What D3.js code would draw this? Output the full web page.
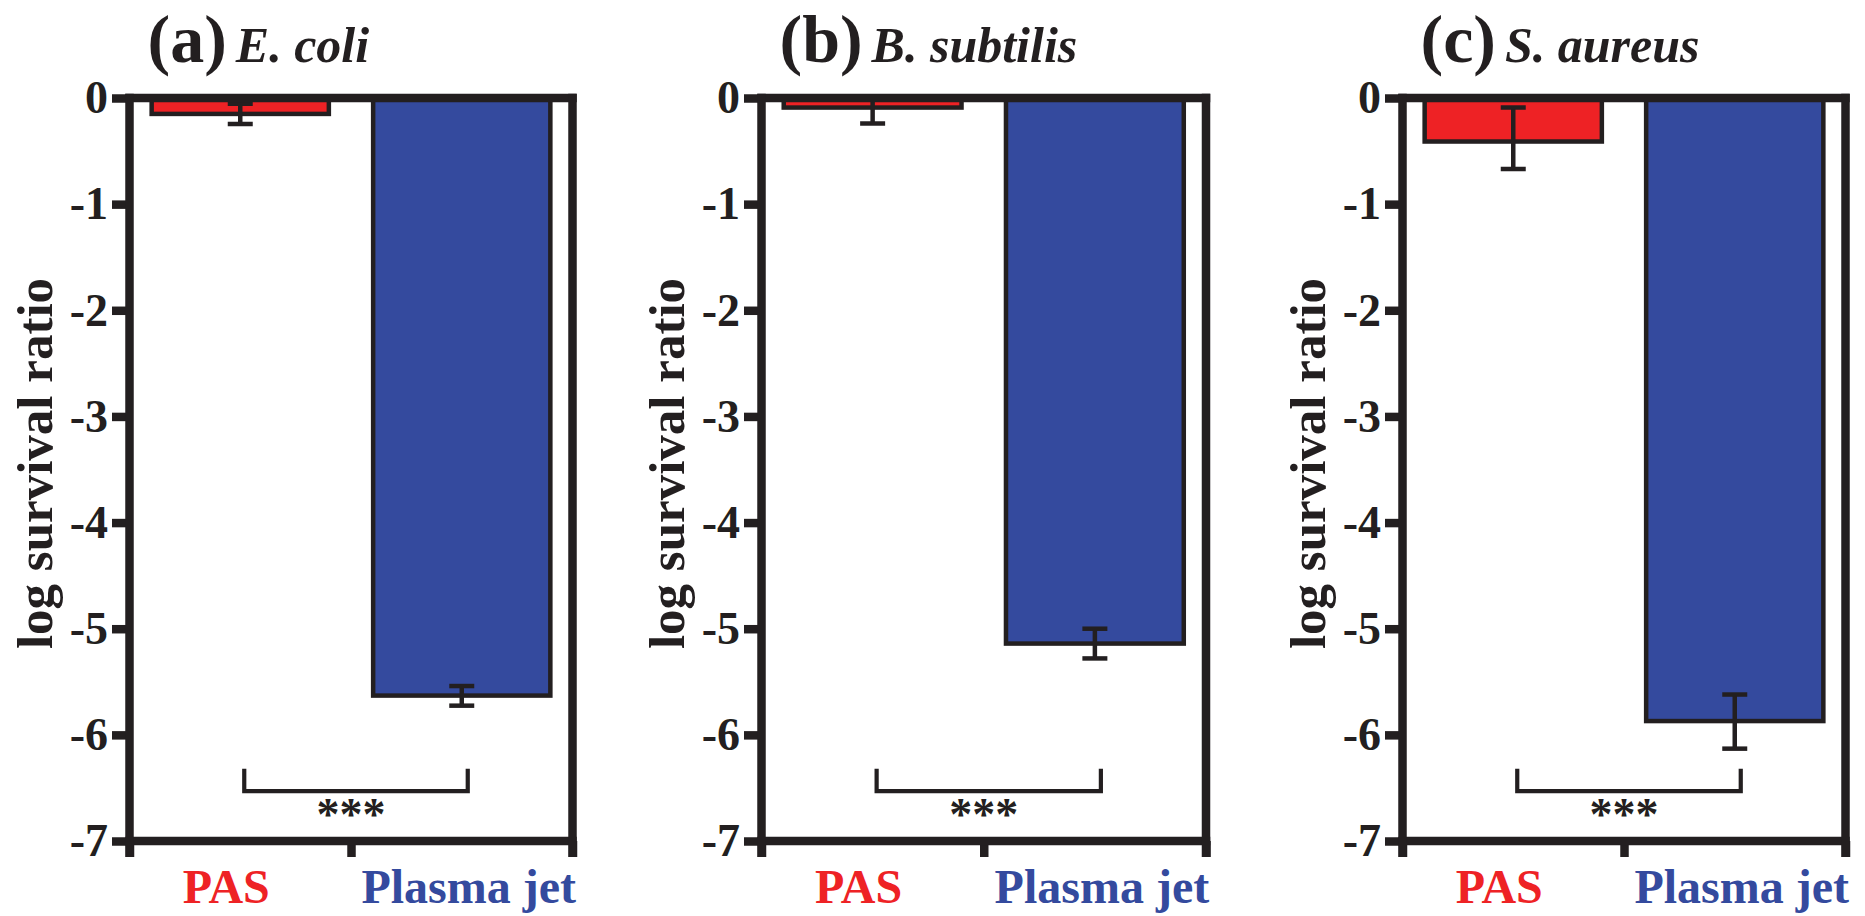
<!DOCTYPE html>
<html>
<head>
<meta charset="utf-8">
<script src="https://cdn.jsdelivr.net/npm/d3@7"></script>
<style>
  html, body { margin: 0; padding: 0; background: #fff; }
  svg { display: block; }
</style>
</head>
<body>
<svg id="chart" width="1865" height="916"></svg>
<script>
// ---- data ----
const categories = ["PAS", "Plasma jet"];
const panelLetters = ["(a)", "(b)", "(c)"];
const species = ["E. coli", "B. subtilis", "S. aureus"];
const pasMean = [-0.15, -0.09, -0.41];
const pasErrUp = [0.095, 0.15, 0.32];
const pasErrDown = [0.095, 0.15, 0.26];
const jetMean = [-5.63, -5.14, -5.87];
const jetErrUp = [0.09, 0.14, 0.25];
const jetErrDown = [0.095, 0.14, 0.26];
const yTicks = [0, -1, -2, -3, -4, -5, -6, -7];
const yLabel = "log survival ratio";
const significance = ["***", "***", "***"];
const bracketTip = -6.32;   // y value where the bracket arms end
const bracketBar = -6.53;   // y value of the bracket cross bar

// ---- styling / layout ----
const INK = "#231F20", RED = "#EE2225", BLUE = "#344A9E";
const FONT = "'Liberation Serif','Times New Roman',Times,serif";
const layout = [
  { x0: 129.5, x1: 572.5 },
  { x0: 761.5, x1: 1206 },
  { x0: 1402.5, x1: 1845.5 }
];
const yTop = 98, yBot = 841;
const AXW = 8.5;        // frame line width
const TICK = 17.5;      // tick length from the frame line centre
const labelShift = [-14, 7];

const svg = d3.select("#chart");
const y = d3.scaleLinear().domain([0, -7]).range([yTop, yBot]);

panelLetters.forEach((letter, i) => {
  const { x0, x1 } = layout[i];
  const g = svg.append("g").attr("class", "panel");

  const x = d3.scaleBand().domain(categories).range([x0, x1])
    .paddingInner(0.2).paddingOuter(0.1);
  const bw = x.bandwidth();

  const rows = [
    { cat: categories[0], mean: pasMean[i], up: pasErrUp[i], down: pasErrDown[i], fill: RED },
    { cat: categories[1], mean: jetMean[i], up: jetErrUp[i], down: jetErrDown[i], fill: BLUE }
  ];

  // plot-area clip so nothing spills above the zero line
  const clipId = "plotclip" + i;
  svg.append("clipPath").attr("id", clipId).append("rect")
    .attr("x", x0 - 10).attr("y", yTop).attr("width", x1 - x0 + 20).attr("height", yBot - yTop);

  const plot = g.append("g").attr("clip-path", `url(#${clipId})`);

  // bars
  plot.selectAll("rect.bar").data(rows).join("rect")
    .attr("class", "bar")
    .attr("x", d => x(d.cat))
    .attr("width", bw)
    .attr("y", y(0))
    .attr("height", d => y(d.mean) - y(0))
    .attr("fill", d => d.fill)
    .attr("stroke", INK)
    .attr("stroke-width", 4.5);

  // error bars
  const eb = plot.selectAll("g.err").data(rows).join("g").attr("class", "err")
    .attr("stroke", INK).attr("stroke-width", 4.5).attr("fill", "none");
  const cx = d => x(d.cat) + bw / 2;
  eb.append("line")
    .attr("x1", cx).attr("x2", cx)
    .attr("y1", d => y(d.mean + d.up)).attr("y2", d => y(d.mean - d.down));
  eb.append("line")
    .attr("x1", d => cx(d) - 12.5).attr("x2", d => cx(d) + 12.5)
    .attr("y1", d => y(d.mean + d.up)).attr("y2", d => y(d.mean + d.up));
  eb.append("line")
    .attr("x1", d => cx(d) - 12.5).attr("x2", d => cx(d) + 12.5)
    .attr("y1", d => y(d.mean - d.down)).attr("y2", d => y(d.mean - d.down));

  // significance bracket
  const xL = x(categories[0]) + bw / 2 + 4;
  const xR = x(categories[1]) + bw / 2 + 6;
  g.append("path")
    .attr("d", `M${xL},${y(bracketTip)}V${y(bracketBar)}H${xR}V${y(bracketTip)}`)
    .attr("fill", "none").attr("stroke", INK).attr("stroke-width", 4.2);
  g.append("text")
    .attr("x", (x0 + x1) / 2).attr("y", 830)
    .attr("text-anchor", "middle")
    .attr("font-family", FONT).attr("font-weight", "bold").attr("font-size", 46)
    .attr("fill", INK)
    .text(significance[i]);

  // y axis ticks and labels
  const yAxis = d3.axisLeft(y).tickValues(yTicks).tickSize(TICK).tickPadding(4)
    .tickFormat(d => String(d));
  const ya = g.append("g").attr("transform", `translate(${x0},0)`).call(yAxis);
  ya.select(".domain").remove();
  ya.selectAll(".tick line").attr("stroke", INK).attr("stroke-width", AXW);
  ya.selectAll(".tick text")
    .attr("font-family", FONT).attr("font-weight", "bold").attr("font-size", 46)
    .attr("fill", INK);

  // x axis ticks at the panel edges and between the two groups
  const xe = d3.scaleLinear().domain([0, 2]).range([x0, x1]);
  const xAxis = d3.axisBottom(xe).tickValues([0, 1, 2]).tickSize(16).tickFormat("");
  const xa = g.append("g").attr("transform", `translate(0,${y(-7)})`).call(xAxis);
  xa.select(".domain").remove();
  xa.selectAll(".tick line").attr("stroke", INK).attr("stroke-width", AXW);

  // frame
  const frame = g.append("g").attr("stroke", INK).attr("stroke-width", AXW);
  frame.append("line").attr("x1", x0 - AXW / 2).attr("x2", x1 + AXW / 2)
    .attr("y1", y(0)).attr("y2", y(0));
  frame.append("line").attr("x1", x0 - AXW / 2).attr("x2", x1 + AXW / 2)
    .attr("y1", y(-7)).attr("y2", y(-7));
  frame.append("line").attr("x1", x0).attr("x2", x0)
    .attr("y1", y(0) - AXW / 2).attr("y2", y(-7) + 16);
  frame.append("line").attr("x1", x1).attr("x2", x1)
    .attr("y1", y(0) - AXW / 2).attr("y2", y(-7) + 16);

  // category labels
  g.selectAll("text.cat").data(rows).join("text")
    .attr("class", "cat")
    .attr("x", (d, k) => x(d.cat) + bw / 2 + labelShift[k])
    .attr("y", 903)
    .attr("text-anchor", "middle")
    .attr("font-family", FONT).attr("font-weight", "bold").attr("font-size", 48)
    .attr("fill", d => d.fill)
    .text(d => d.cat);

  // y axis title
  g.append("text")
    .attr("transform", `translate(${x0 - 77.5},${(yTop + yBot) / 2 - 6}) rotate(-90)`)
    .attr("text-anchor", "middle")
    .attr("font-family", FONT).attr("font-weight", "bold").attr("font-size", 51)
    .attr("fill", INK)
    .text(yLabel);

  // panel title
  const t = g.append("text")
    .attr("x", x0 + 18).attr("y", 62)
    .attr("font-family", FONT).attr("font-weight", "bold").attr("fill", INK);
  t.append("tspan").attr("font-size", 68).text(letter);
  t.append("tspan").attr("dx", 9).attr("font-size", 50).attr("font-style", "italic").text(species[i]);
});
</script>
</body>
</html>
